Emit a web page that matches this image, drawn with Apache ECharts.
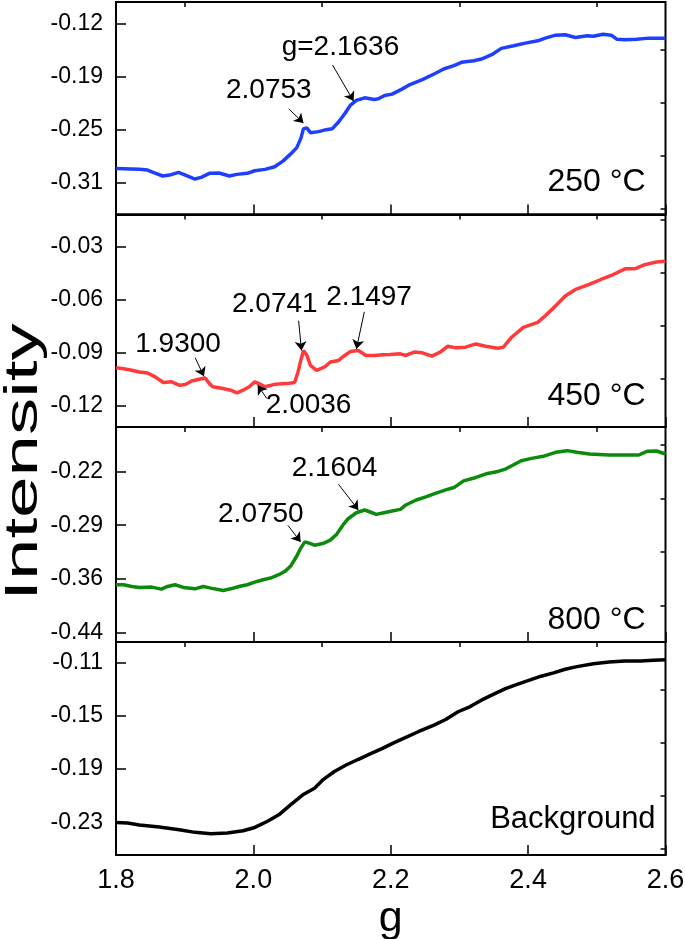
<!DOCTYPE html>
<html><head><meta charset="utf-8">
<script src="https://cdn.jsdelivr.net/npm/echarts@6/dist/echarts.min.js"></script>
<style>html,body{margin:0;padding:0;background:#fff}#c{width:685px;height:939px}</style>
</head><body><div id="c"></div>
<script>
// ---------- data ----------
const gTicks = [1.8, 2.0, 2.2, 2.4, 2.6];
const gMinor = [1.9, 2.1, 2.3, 2.5];

const p1Ticks = [-0.125, -0.1875, -0.25, -0.3125];
const p1Labels = ['-0.12', '-0.19', '-0.25', '-0.31'];
const p1Minor = [-0.15625, -0.21875, -0.28125, -0.34375];

const p2Ticks = [-0.03, -0.06, -0.09, -0.12];
const p2Labels = ['-0.03', '-0.06', '-0.09', '-0.12'];
const p2Minor = [-0.015, -0.045, -0.075, -0.105];

const p3Ticks = [-0.215, -0.29, -0.365, -0.44];
const p3Labels = ['-0.22', '-0.29', '-0.36', '-0.44'];
const p3Minor = [-0.1775, -0.2525, -0.3275, -0.4025];

const p4Ticks = [-0.11, -0.15, -0.19, -0.23];
const p4Labels = ['-0.11', '-0.15', '-0.19', '-0.23'];
const p4Minor = [-0.13, -0.17, -0.21, -0.25];

const panelTitles = ['250 \u00B0C', '450 \u00B0C', '800 \u00B0C', 'Background'];

const s250 = [[1.800,-0.2958],[1.834,-0.2969],[1.846,-0.2977],[1.854,-0.3005],[1.868,-0.3047],[1.878,-0.3036],[1.891,-0.3005],[1.901,-0.3036],[1.915,-0.3083],[1.924,-0.3063],[1.936,-0.3016],[1.950,-0.3012],[1.965,-0.3047],[1.976,-0.3028],[1.991,-0.3016],[2.002,-0.2985],[2.017,-0.2969],[2.031,-0.2938],[2.043,-0.2872],[2.054,-0.2790],[2.063,-0.2716],[2.069,-0.2607],[2.073,-0.2490],[2.078,-0.2482],[2.083,-0.2537],[2.095,-0.2525],[2.106,-0.2502],[2.115,-0.2490],[2.124,-0.2412],[2.133,-0.2314],[2.141,-0.2217],[2.150,-0.2158],[2.162,-0.2127],[2.176,-0.2147],[2.182,-0.2139],[2.191,-0.2100],[2.202,-0.2084],[2.217,-0.2022],[2.228,-0.1971],[2.246,-0.1913],[2.263,-0.1847],[2.277,-0.1788],[2.292,-0.1749],[2.303,-0.1710],[2.321,-0.1691],[2.332,-0.1671],[2.347,-0.1620],[2.361,-0.1546],[2.379,-0.1515],[2.396,-0.1484],[2.414,-0.1457],[2.425,-0.1425],[2.440,-0.1390],[2.454,-0.1386],[2.469,-0.1418],[2.486,-0.1398],[2.495,-0.1402],[2.509,-0.1379],[2.521,-0.1390],[2.529,-0.1437],[2.541,-0.1445],[2.558,-0.1437],[2.576,-0.1425],[2.600,-0.1425]];

const s450 = [[1.800,-0.0985],[1.811,-0.0991],[1.823,-0.1000],[1.834,-0.1009],[1.846,-0.1015],[1.857,-0.1037],[1.869,-0.1069],[1.881,-0.1065],[1.892,-0.1084],[1.901,-0.1080],[1.910,-0.1060],[1.921,-0.1050],[1.930,-0.1043],[1.936,-0.1075],[1.941,-0.1093],[1.956,-0.1103],[1.967,-0.1112],[1.976,-0.1127],[1.985,-0.1112],[1.994,-0.1093],[2.002,-0.1065],[2.008,-0.1075],[2.017,-0.1093],[2.031,-0.1079],[2.049,-0.1075],[2.060,-0.1069],[2.065,-0.1009],[2.069,-0.0944],[2.073,-0.0888],[2.078,-0.0916],[2.083,-0.0972],[2.092,-0.1000],[2.104,-0.0981],[2.112,-0.0953],[2.124,-0.0944],[2.133,-0.0916],[2.141,-0.0894],[2.153,-0.0888],[2.164,-0.0916],[2.176,-0.0916],[2.188,-0.0912],[2.199,-0.0910],[2.214,-0.0907],[2.222,-0.0916],[2.234,-0.0897],[2.246,-0.0901],[2.260,-0.0920],[2.272,-0.0897],[2.283,-0.0864],[2.295,-0.0873],[2.309,-0.0869],[2.324,-0.0851],[2.338,-0.0864],[2.356,-0.0875],[2.364,-0.0869],[2.376,-0.0813],[2.393,-0.0757],[2.414,-0.0729],[2.425,-0.0692],[2.440,-0.0636],[2.454,-0.0580],[2.469,-0.0543],[2.489,-0.0515],[2.506,-0.0487],[2.524,-0.0459],[2.541,-0.0427],[2.555,-0.0427],[2.570,-0.0403],[2.587,-0.0388],[2.600,-0.0384]];

const s800 = [[1.800,-0.3731],[1.811,-0.3731],[1.823,-0.3755],[1.834,-0.3769],[1.852,-0.3764],[1.866,-0.3792],[1.875,-0.3755],[1.886,-0.3731],[1.898,-0.3769],[1.915,-0.3788],[1.927,-0.3755],[1.938,-0.3778],[1.956,-0.3811],[1.967,-0.3788],[1.979,-0.3755],[1.991,-0.3731],[2.002,-0.3694],[2.014,-0.3661],[2.025,-0.3638],[2.037,-0.3591],[2.046,-0.3544],[2.054,-0.3474],[2.063,-0.3334],[2.069,-0.3217],[2.075,-0.3133],[2.080,-0.3147],[2.089,-0.3179],[2.101,-0.3156],[2.112,-0.3109],[2.121,-0.3030],[2.130,-0.2903],[2.138,-0.2810],[2.150,-0.2726],[2.162,-0.2688],[2.170,-0.2716],[2.179,-0.2749],[2.190,-0.2726],[2.202,-0.2702],[2.214,-0.2679],[2.222,-0.2618],[2.237,-0.2548],[2.251,-0.2506],[2.266,-0.2454],[2.280,-0.2407],[2.292,-0.2375],[2.306,-0.2281],[2.324,-0.2234],[2.341,-0.2178],[2.356,-0.2150],[2.367,-0.2117],[2.379,-0.2056],[2.390,-0.2000],[2.405,-0.1968],[2.422,-0.1939],[2.440,-0.1883],[2.457,-0.1860],[2.471,-0.1883],[2.489,-0.1907],[2.518,-0.1921],[2.541,-0.1921],[2.561,-0.1921],[2.573,-0.1869],[2.587,-0.1865],[2.600,-0.1907]];

const sBg = [[1.800,-0.2300],[1.817,-0.2305],[1.834,-0.2320],[1.863,-0.2335],[1.892,-0.2355],[1.915,-0.2375],[1.938,-0.2385],[1.962,-0.2380],[1.985,-0.2363],[2.002,-0.2338],[2.020,-0.2293],[2.037,-0.2243],[2.054,-0.2168],[2.072,-0.2093],[2.089,-0.2043],[2.101,-0.1981],[2.118,-0.1918],[2.135,-0.1869],[2.153,-0.1826],[2.170,-0.1786],[2.188,-0.1744],[2.205,-0.1701],[2.222,-0.1661],[2.240,-0.1619],[2.263,-0.1569],[2.280,-0.1527],[2.298,-0.1469],[2.315,-0.1432],[2.332,-0.1382],[2.350,-0.1337],[2.367,-0.1295],[2.385,-0.1262],[2.402,-0.1232],[2.419,-0.1202],[2.437,-0.1177],[2.454,-0.1150],[2.471,-0.1130],[2.495,-0.1108],[2.518,-0.1095],[2.541,-0.1088],[2.564,-0.1088],[2.582,-0.1083],[2.600,-0.1078]];

// annotations (text anchored at data coordinates, arrows between data coordinates)
const ann250 = [{text:'2.0753', at:[2.0225,-0.2042]}, {text:'g=2.1636', at:[2.1268,-0.1535]}];
const arr250 = [[[2.0514,-0.2256],[2.0729,-0.2424]], [[2.1152,-0.1741],[2.1459,-0.2166]]];
const ann450 = [{text:'1.9300', at:[1.8904,-0.0851]}, {text:'2.0036', at:[2.0804,-0.1196]}, {text:'2.0741', at:[2.0312,-0.0627]}, {text:'2.1497', at:[2.1685,-0.0589]}];
const arr450 = [[[1.9153,-0.0929],[1.9280,-0.1034]], [[2.0196,-0.1159],[2.0063,-0.1084]], [[2.0659,-0.0720],[2.0700,-0.0888]], [[2.1615,-0.0670],[2.1500,-0.0879]]];
const ann800 = [{text:'2.0750', at:[2.0109,-0.2749]}, {text:'2.1604', at:[2.1181,-0.2103]}];
const arr800 = [[[2.0503,-0.2903],[2.0688,-0.3133]], [[2.1239,-0.2328],[2.1528,-0.2688]]];
const titleAt = [[2.571,-0.3119],[2.571,-0.1144],[2.571,-0.4221],[2.5856,-0.2279]];

// ---------- layout / style ----------
const FONT = 'Arial, "Liberation Sans", Helvetica, sans-serif';
const tops = [2, 214.5, 427, 642];
const heights = [212.5, 212.5, 215, 213];
const yRanges = [[-0.35,-0.10],[-0.132,-0.012],[-0.453,-0.153],[-0.2545,-0.0945]];
const majors = [p1Ticks, p2Ticks, p3Ticks, p4Ticks];
const majorLabels = [p1Labels, p2Labels, p3Labels, p4Labels];
const minors = [p1Minor, p2Minor, p3Minor, p4Minor];
const seriesData = [s250, s450, s800, sBg];
const colors = ['#1f3fff', '#ff3a3a', '#0b8a0b', '#000000'];
const anns = [ann250, ann450, ann800, []];
const arrs = [arr250, arr450, arr800, []];

const grids = [], xAxes = [], yAxes = [], series = [];
for (let i = 0; i < 4; i++) {
  grids.push({left: 116, right: 19.5, top: tops[i], height: heights[i], show: true,
    outerBoundsMode: 'none', containLabel: false,
    borderColor: '#000', borderWidth: 2, backgroundColor: 'transparent'});
  const last = i === 3;
  xAxes.push({type: 'value', gridIndex: i, min: 1.8, max: 2.6,
    axisLine: {show: true, onZero: false, lineStyle: {color: '#000', width: 2}},
    axisTick: {show: true, inside: true, length: 10, lineStyle: {color: '#000', width: 1.5}, customValues: gTicks},
    minorTick: {show: false},
    axisLabel: {show: last, customValues: gTicks, formatter: v => v.toFixed(1), color: '#000', fontSize: 27, fontFamily: FONT, margin: 12},
    splitLine: {show: false},
    name: last ? 'g' : '', nameLocation: 'middle', nameGap: 43,
    nameTextStyle: {fontSize: 43, fontFamily: FONT, color: '#000'}});
  // minor x ticks
  xAxes.push({type: 'value', gridIndex: i, min: 1.8, max: 2.6,
    axisLine: {show: false, onZero: false},
    axisTick: {show: true, inside: true, length: 5, lineStyle: {color: '#000', width: 1.5}, customValues: gMinor},
    axisLabel: {show: false}, splitLine: {show: false}});
  const mj = majors[i], lb = majorLabels[i];
  yAxes.push({type: 'value', gridIndex: i, min: yRanges[i][0], max: yRanges[i][1],
    axisLine: {show: true, onZero: false, lineStyle: {color: '#000', width: 2}},
    axisTick: {show: true, inside: true, length: 10, lineStyle: {color: '#000', width: 1.5}, customValues: mj},
    axisLabel: {show: true, customValues: mj, color: '#000', fontSize: 23, fontFamily: FONT, margin: 13,
      formatter: v => { let k = 0, d = 1e9; mj.forEach((t, j) => { if (Math.abs(t - v) < d) { d = Math.abs(t - v); k = j; } }); return lb[k]; }},
    splitLine: {show: false}});
}
for (let i = 0; i < 4; i++) {
  yAxes.push({type: 'value', gridIndex: i, min: yRanges[i][0], max: yRanges[i][1],
    axisLine: {show: false, onZero: false},
    axisTick: {show: true, inside: true, length: 5, lineStyle: {color: '#000', width: 1.5}, customValues: minors[i]},
    axisLabel: {show: false}, splitLine: {show: false}});
}

for (let i = 0; i < 4; i++) {
  const mpData = anns[i].map(a => ({name: a.text, coord: a.at,
    label: {show: true, position: 'inside', formatter: '{b}', color: '#000', fontSize: 28, fontFamily: FONT}}));
  mpData.push({name: panelTitles[i], coord: titleAt[i],
    label: {show: true, position: 'left', distance: 0, formatter: '{b}', color: '#000', fontSize: i === 3 ? 31 : 32, fontFamily: FONT}});
  series.push({type: 'line', xAxisIndex: 2 * i, yAxisIndex: i, data: seriesData[i],
    showSymbol: false, symbol: 'none', silent: true,
    lineStyle: {color: colors[i], width: 3.5}, itemStyle: {color: colors[i]},
    markPoint: {symbol: 'circle', symbolSize: 0, silent: true, animation: false, data: mpData},
    markLine: {silent: true, animation: false, symbol: ['none', 'arrow'], symbolSize: 9,
      lineStyle: {color: '#000', width: 1, type: 'solid'}, label: {show: false},
      data: arrs[i].map(a => [{coord: a[0]}, {coord: a[1]}])}
  });
}

const chart = echarts.init(document.getElementById('c'), null, {renderer: 'canvas'});
chart.setOption({
  animation: false,
  backgroundColor: '#fff',
  grid: grids, xAxis: xAxes, yAxis: yAxes, series: series,
  graphic: [{type: 'text', x: 24, y: 462, rotation: Math.PI / 2, scaleX: 1.62, scaleY: 1,
    style: {text: 'Intensity', fontSize: 46, fontFamily: FONT, fill: '#000', align: 'center', verticalAlign: 'middle'}}]
});
</script></body></html>
